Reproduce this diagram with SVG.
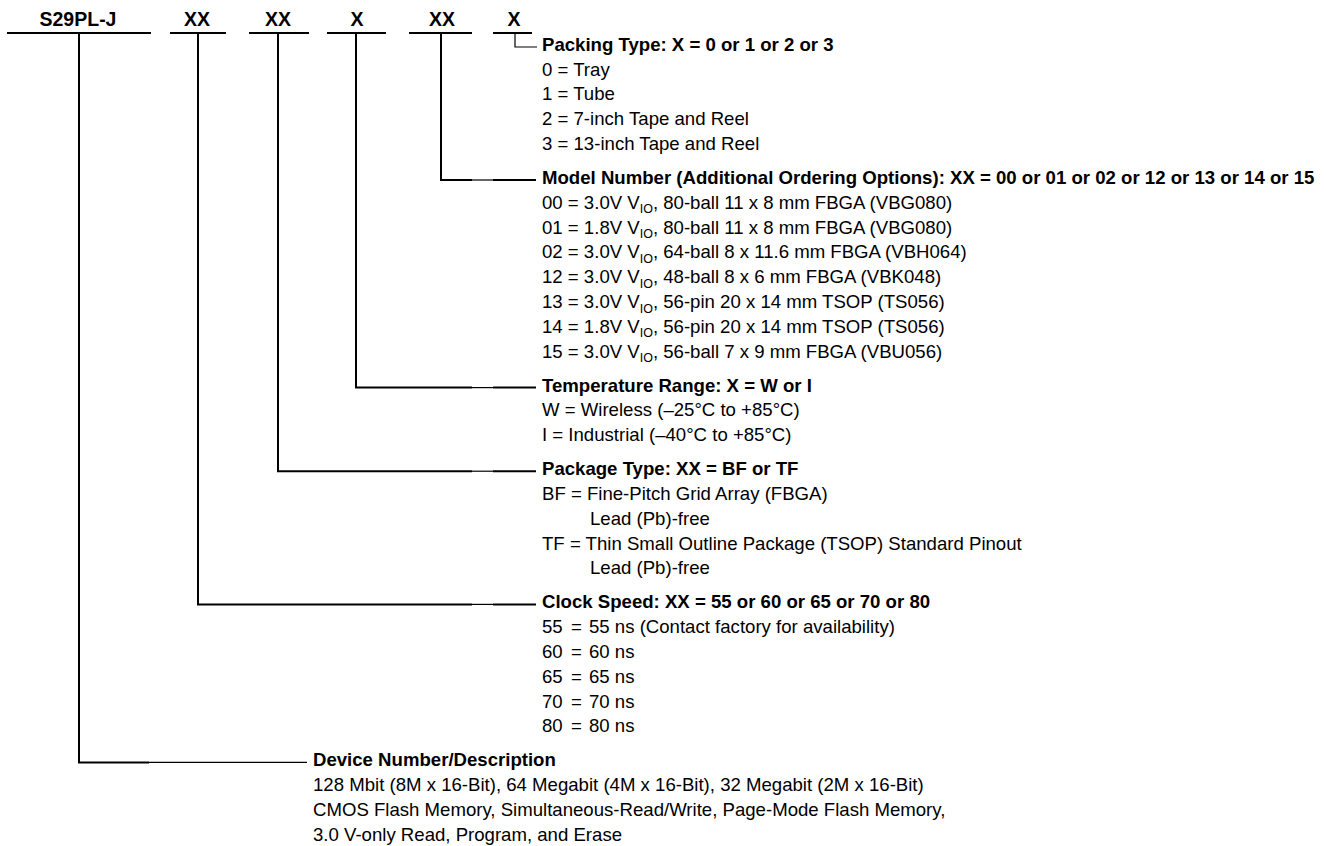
<svg xmlns="http://www.w3.org/2000/svg" width="1326" height="846" viewBox="0 0 1326 846">
<style>
text{font-family:"Liberation Sans",Arial,sans-serif;font-size:18.6px;fill:#000}
.b{font-weight:bold}
.h{font-weight:bold;font-size:19.5px}
.sub{font-size:12.5px}
.k{stroke:#000;stroke-width:2;fill:none}
.t{stroke:#000;stroke-width:1.2;fill:none}
</style>
<rect width="1326" height="846" fill="#fff"/>
<g id="code">
<text class="h" x="78" y="26" text-anchor="middle">S29PL-J</text>
<text class="h" x="197" y="26" text-anchor="middle">XX</text>
<text class="h" x="278" y="26" text-anchor="middle">XX</text>
<text class="h" x="357" y="26" text-anchor="middle">X</text>
<text class="h" x="442" y="26" text-anchor="middle">XX</text>
<text class="h" x="514" y="26" text-anchor="middle">X</text>
</g>
<g id="connectors">
<path class="k" d="M7 33H151M170 33H226M249 33H309M327 33H386M409 33H472M493 33H532"/>
<path class="t" d="M515 33V47H537"/>
<path class="k" d="M441 33V180H472M493 180H536"/><path class="t" d="M472 180H493"/>
<path class="k" d="M356 33V387.6H472M493 387.6H536"/><path class="t" d="M472 387.6H493"/>
<path class="k" d="M278 33V471.2H472M493 471.2H536"/><path class="t" d="M472 471.2H493"/>
<path class="k" d="M198 33V604.4H472M493 604.4H536"/><path class="t" d="M472 604.4H493"/>
<path class="k" d="M79 33V762.4H149"/><path class="t" d="M149 762.4H307"/>
</g>
<g id="packing">
<text class="b" x="542" y="50.8">Packing Type: X = 0 or 1 or 2 or 3</text>
<text x="542" y="75.6">0 = Tray</text>
<text x="542" y="100.4">1 = Tube</text>
<text x="542" y="125.2">2 = 7-inch Tape and Reel</text>
<text x="542" y="150">3 = 13-inch Tape and Reel</text>
</g>
<g id="model">
<text class="b" x="542" y="184">Model Number (Additional Ordering Options): XX = 00 or 01 or 02 or 12 or 13 or 14 or 15</text>
<text x="542" y="208.8">00 = 3.0V V<tspan class="sub" dy="4.5">IO</tspan><tspan dy="-4.5">, 80-ball 11 x 8 mm FBGA (VBG080)</tspan></text>
<text x="542" y="233.6">01 = 1.8V V<tspan class="sub" dy="4.5">IO</tspan><tspan dy="-4.5">, 80-ball 11 x 8 mm FBGA (VBG080)</tspan></text>
<text x="542" y="258.4">02 = 3.0V V<tspan class="sub" dy="4.5">IO</tspan><tspan dy="-4.5">, 64-ball 8 x 11.6 mm FBGA (VBH064)</tspan></text>
<text x="542" y="283.2">12 = 3.0V V<tspan class="sub" dy="4.5">IO</tspan><tspan dy="-4.5">, 48-ball 8 x 6 mm FBGA (VBK048)</tspan></text>
<text x="542" y="308">13 = 3.0V V<tspan class="sub" dy="4.5">IO</tspan><tspan dy="-4.5">, 56-pin 20 x 14 mm TSOP (TS056)</tspan></text>
<text x="542" y="332.8">14 = 1.8V V<tspan class="sub" dy="4.5">IO</tspan><tspan dy="-4.5">, 56-pin 20 x 14 mm TSOP (TS056)</tspan></text>
<text x="542" y="357.6">15 = 3.0V V<tspan class="sub" dy="4.5">IO</tspan><tspan dy="-4.5">, 56-ball 7 x 9 mm FBGA (VBU056)</tspan></text>
</g>
<g id="temperature">
<text class="b" x="542" y="391.6">Temperature Range: X = W or I</text>
<text x="542" y="416.4">W = Wireless (–25°C to +85°C)</text>
<text x="542" y="441.2">I = Industrial (–40°C to +85°C)</text>
</g>
<g id="package">
<text class="b" x="542" y="475.2">Package Type: XX = BF or TF</text>
<text x="542" y="500">BF = Fine-Pitch Grid Array (FBGA)</text>
<text x="590" y="524.8">Lead (Pb)-free</text>
<text x="542" y="549.6">TF = Thin Small Outline Package (TSOP) Standard Pinout</text>
<text x="590" y="574.4">Lead (Pb)-free</text>
</g>
<g id="clock">
<text class="b" x="542" y="608.4">Clock Speed: XX = 55 or 60 or 65 or 70 or 80</text>
<text y="633.2"><tspan x="542">55</tspan><tspan x="571">=</tspan><tspan x="589">55 ns (Contact factory for availability)</tspan></text>
<text y="658"><tspan x="542">60</tspan><tspan x="571">=</tspan><tspan x="589">60 ns</tspan></text>
<text y="682.8"><tspan x="542">65</tspan><tspan x="571">=</tspan><tspan x="589">65 ns</tspan></text>
<text y="707.6"><tspan x="542">70</tspan><tspan x="571">=</tspan><tspan x="589">70 ns</tspan></text>
<text y="732.4"><tspan x="542">80</tspan><tspan x="571">=</tspan><tspan x="589">80 ns</tspan></text>
</g>
<g id="device">
<text class="b" x="313" y="766.4">Device Number/Description</text>
<text x="313" y="791.2">128 Mbit (8M x 16-Bit), 64 Megabit (4M x 16-Bit), 32 Megabit (2M x 16-Bit)</text>
<text x="313" y="816">CMOS Flash Memory, Simultaneous-Read/Write, Page-Mode Flash Memory,</text>
<text x="313" y="840.8">3.0 V-only Read, Program, and Erase</text>
</g>
</svg>
